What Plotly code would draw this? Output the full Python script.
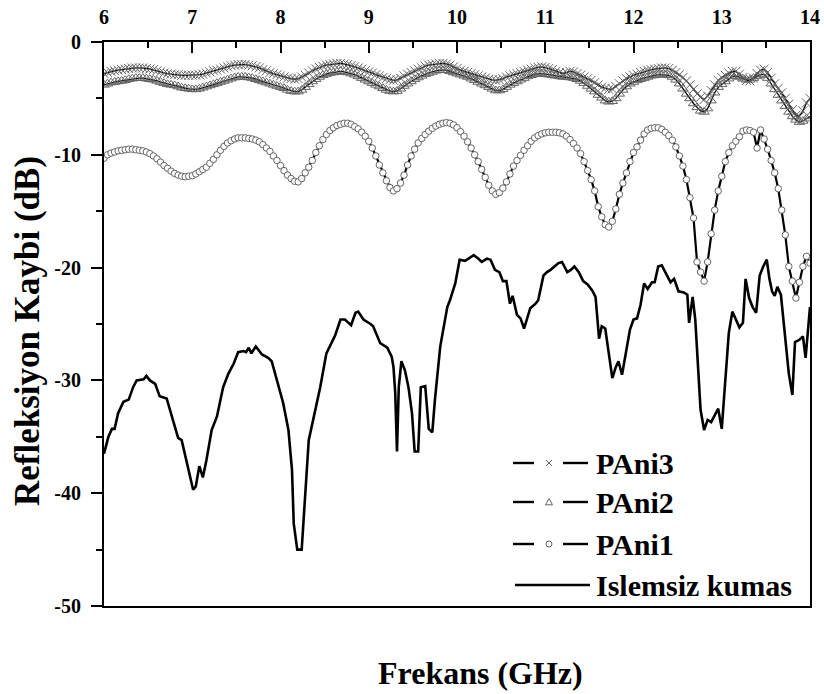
import numpy as np
import plotly.graph_objects as go

# ---------------------------------------------------------------------------
# Data: reflection loss (dB) versus frequency (GHz)
# ---------------------------------------------------------------------------
# Coated fabrics were swept from 6 to 14 GHz in 201 equally spaced points.
sweep_ghz = np.linspace(6.0, 14.0, 201)

pani1_db = [
    -10.3, -10.0, -9.85, -9.75, -9.65, -9.6, -9.55, -9.5, -9.5, -9.55, -9.6, -9.65, -9.75,
    -9.9, -10.1, -10.35, -10.65, -10.95, -11.2, -11.45, -11.65, -11.8, -11.9, -11.95, -11.9,
    -11.85, -11.7, -11.5, -11.3, -11.1, -10.75, -10.4, -10.0, -9.6, -9.25, -8.95, -8.75, -8.6,
    -8.5, -8.5, -8.5, -8.55, -8.6, -8.7, -8.85, -9.1, -9.4, -9.7, -10.1, -10.5,
    -10.95, -11.4, -11.8, -12.1, -12.35, -12.4, -12.1, -11.6, -11.1, -10.5, -9.8, -9.2, -8.65,
    -8.2, -7.85, -7.6, -7.4, -7.3, -7.2, -7.2, -7.3, -7.5, -7.7, -8.0, -8.35,
    -8.8, -9.4, -10.1, -10.9, -11.6, -12.3, -12.9, -13.2, -13.0, -12.5, -11.8, -10.9, -10.1,
    -9.5, -8.95, -8.55, -8.2, -7.9, -7.65, -7.45, -7.3, -7.2, -7.15, -7.2, -7.35,
    -7.6, -7.95, -8.35, -8.85, -9.4, -10.0, -10.6, -11.3, -12.0, -12.7, -13.2, -13.5, -13.35,
    -12.95, -12.4, -11.7, -11.0, -10.5, -10.05, -9.6, -9.2, -8.8, -8.5, -8.3, -8.15,
    -8.05, -8.0, -8.0, -8.0, -8.05, -8.15, -8.35, -8.65, -9.0, -9.4, -9.9, -10.6, -11.4,
    -12.2, -13.2, -14.6, -15.5, -16.2, -16.4, -15.9, -14.8, -13.5, -12.5, -11.6, -10.6,
    -9.8, -9.3, -8.7, -8.15, -7.8, -7.65, -7.6, -7.6, -7.75, -8.0, -8.3, -8.7, -9.3,
    -10.1, -11.0, -12.2, -13.8, -15.6, -19.5, -20.4, -21.2, -19.5, -17.0, -14.9, -13.2,
    -11.9, -10.6, -9.8, -9.2, -8.8, -8.4, -7.9, -7.8, -7.85, -8.0, -9.4, -7.8, -8.6,
    -9.5, -10.5, -11.6, -13.0, -14.9, -17.1, -19.9, -21.2, -22.7, -21.3, -19.9, -19.0,
    -19.6,
]

pani2_db = [
    -3.8, -3.7, -3.6, -3.55, -3.5, -3.45, -3.4, -3.3, -3.25, -3.2, -3.2, -3.2, -3.25,
    -3.3, -3.35, -3.45, -3.55, -3.65, -3.75, -3.8, -3.85, -3.95, -4.05, -4.1, -4.15,
    -4.2, -4.2, -4.15, -4.05, -3.95, -3.85, -3.75, -3.65, -3.55, -3.45, -3.35, -3.25, -3.15,
    -3.1, -3.1, -3.1, -3.15, -3.2, -3.3, -3.4, -3.5, -3.6, -3.7, -3.8, -3.9,
    -4.0, -4.1, -4.25, -4.35, -4.4, -4.4, -4.25, -4.0, -3.75, -3.5, -3.3, -3.1, -2.95,
    -2.85, -2.75, -2.7, -2.65, -2.6, -2.65, -2.7, -2.8, -2.9, -3.05, -3.2, -3.35,
    -3.5, -3.65, -3.8, -3.95, -4.1, -4.25, -4.35, -4.4, -4.35, -4.15, -3.9, -3.7, -3.5,
    -3.3, -3.15, -3.0, -2.85, -2.75, -2.65, -2.55, -2.5, -2.5, -2.5, -2.6, -2.7,
    -2.8, -2.9, -3.0, -3.1, -3.25, -3.4, -3.55, -3.7, -3.85, -4.0, -4.15, -4.3, -4.3,
    -4.2, -4.0, -3.8, -3.65, -3.5, -3.35, -3.2, -3.05, -2.95, -2.85, -2.8, -2.8,
    -2.85, -2.9, -2.95, -3.0, -3.05, -3.1, -3.1, -3.15, -3.2, -3.3, -3.45, -3.65, -3.9,
    -4.15, -4.4, -4.7, -4.95, -5.2, -5.3, -5.25, -5.0, -4.6, -4.25, -3.95, -3.7,
    -3.55, -3.4, -3.3, -3.2, -3.1, -3.0, -2.95, -2.9, -2.9, -2.9, -2.95, -3.1, -3.35,
    -3.7, -4.15, -4.6, -5.0, -5.45, -5.8, -6.1, -6.2, -5.9, -5.2, -4.5, -4.0,
    -3.75, -3.5, -3.25, -3.05, -3.0, -3.1, -3.25, -3.35, -3.35, -3.2, -3.05, -2.9, -2.9,
    -3.2, -3.7, -4.2, -4.7, -5.2, -5.7, -6.2, -6.6, -6.9, -7.1, -7.0, -6.8,
    -6.6,
]

pani3_db = [
    -2.8, -2.7, -2.6, -2.55, -2.5, -2.45, -2.4, -2.35, -2.3, -2.3, -2.3, -2.3, -2.35,
    -2.4, -2.45, -2.55, -2.65, -2.75, -2.8, -2.85, -2.9, -2.9, -2.95, -2.95, -2.95,
    -2.95, -2.95, -2.9, -2.85, -2.75, -2.65, -2.55, -2.5, -2.4, -2.3, -2.2, -2.1, -2.05,
    -2.0, -2.0, -2.0, -2.05, -2.1, -2.2, -2.3, -2.45, -2.55, -2.7, -2.8, -2.9,
    -3.0, -3.1, -3.2, -3.25, -3.3, -3.25, -3.1, -2.95, -2.75, -2.55, -2.4, -2.25, -2.15,
    -2.05, -2.0, -1.95, -1.9, -1.9, -1.95, -2.0, -2.1, -2.2, -2.3, -2.4, -2.55,
    -2.65, -2.75, -2.9, -3.0, -3.15, -3.25, -3.35, -3.4, -3.35, -3.2, -3.0, -2.85, -2.7,
    -2.55, -2.4, -2.3, -2.15, -2.05, -2.0, -1.95, -1.9, -1.9, -1.95, -2.05, -2.2,
    -2.35, -2.5, -2.6, -2.7, -2.8, -2.9, -3.0, -3.1, -3.2, -3.3, -3.35, -3.4, -3.35,
    -3.25, -3.1, -3.0, -2.9, -2.8, -2.7, -2.6, -2.5, -2.4, -2.3, -2.25, -2.2,
    -2.25, -2.35, -2.45, -2.6, -2.7, -2.8, -2.7, -2.6, -2.65, -2.8, -2.95, -3.1, -3.25,
    -3.4, -3.6, -3.8, -4.0, -4.1, -4.2, -4.15, -3.95, -3.7, -3.45, -3.25, -3.1,
    -2.95, -2.85, -2.7, -2.6, -2.5, -2.45, -2.4, -2.35, -2.3, -2.3, -2.35, -2.5, -2.7,
    -2.9, -3.15, -3.45, -3.8, -4.2, -4.6, -4.9, -5.1, -4.8, -4.3, -3.8, -3.4,
    -3.15, -2.95, -2.75, -2.6, -2.6, -2.85, -3.15, -3.4, -3.45, -3.2, -2.8, -2.5, -2.4,
    -2.7, -3.2, -3.7, -4.1, -4.5, -5.0, -5.5, -6.0, -6.5, -6.6, -6.1, -5.4,
    -5.0,
]

# Untreated fabric, traced at irregular frequency points
kumas_ghz = [
    6.00, 6.05, 6.09, 6.12, 6.16, 6.22, 6.28, 6.33, 6.37, 6.45, 6.48, 6.52, 6.58, 6.63,
    6.71, 6.77, 6.84, 6.88, 6.96, 7.01, 7.04, 7.08, 7.12, 7.16, 7.22, 7.28, 7.35, 7.41,
    7.47, 7.52, 7.58, 7.61, 7.64, 7.67, 7.72, 7.79, 7.86, 7.90, 7.96, 8.03, 8.09, 8.13,
    8.15, 8.19, 8.24, 8.27, 8.32, 8.37, 8.45, 8.52, 8.56, 8.62, 8.68, 8.73, 8.80, 8.85,
    8.88, 8.94, 9.02, 9.05, 9.13, 9.21, 9.26, 9.28, 9.30, 9.32, 9.34, 9.37, 9.41, 9.45,
    9.49, 9.52, 9.56, 9.59, 9.64, 9.68, 9.72, 9.75, 9.81, 9.89, 9.92, 9.98, 10.03, 10.09,
    10.13, 10.19, 10.24, 10.28, 10.34, 10.38, 10.43, 10.48, 10.52, 10.56, 10.60, 10.63,
    10.68, 10.72, 10.76, 10.83, 10.89, 10.92, 10.98, 11.02, 11.06, 11.10, 11.15, 11.19,
    11.25, 11.29, 11.33, 11.38, 11.43, 11.48, 11.53, 11.57, 11.59, 11.61, 11.64, 11.68,
    11.72, 11.76, 11.80, 11.83, 11.87, 11.93, 11.96, 12.00, 12.04, 12.08, 12.12, 12.16,
    12.21, 12.24, 12.28, 12.32, 12.36, 12.42, 12.46, 12.51, 12.57, 12.61, 12.63, 12.67,
    12.70, 12.74, 12.76, 12.80, 12.84, 12.88, 12.92, 12.96, 13.00, 13.04, 13.08, 13.12,
    13.15, 13.20, 13.24, 13.27, 13.31, 13.35, 13.39, 13.43, 13.47, 13.51, 13.54, 13.57,
    13.60, 13.63, 13.67, 13.72, 13.76, 13.80, 13.83, 13.88, 13.92, 13.95, 13.98, 14.00,
]
kumas_db = [
    -36.5, -35.0, -34.3, -34.3, -32.9, -31.9, -31.7, -30.6, -30.0, -29.9, -29.6, -30.0, -30.3, -31.4,
    -31.6, -33.2, -35.1, -35.3, -38.2, -39.7, -39.4, -37.6, -38.6, -37.1, -34.4, -33.2, -30.6, -29.4,
    -28.5, -27.5, -27.4, -27.5, -27.1, -27.6, -27.0, -27.7, -28.0, -28.3, -30.0, -32.0, -34.4, -37.9,
    -42.7, -45.0, -45.0, -41.2, -35.3, -33.5, -30.6, -27.6, -27.0, -26.0, -24.6, -24.6, -25.1, -24.0,
    -23.9, -24.6, -25.0, -25.2, -26.7, -27.1, -27.9, -28.8, -31.1, -36.3, -30.6, -28.3, -29.1, -30.6,
    -32.9, -36.3, -36.3, -30.6, -30.5, -34.3, -34.6, -31.7, -27.0, -23.5, -22.9, -21.4, -19.3, -19.4,
    -19.2, -18.9, -19.2, -19.5, -19.2, -19.3, -20.2, -20.4, -21.2, -21.2, -23.2, -22.5,
    -24.2, -24.5, -25.4, -23.6, -23.2, -22.9, -20.7, -20.4, -20.2, -19.9, -19.6, -19.5,
    -20.4, -20.2, -19.9, -20.4, -21.2, -21.5, -22.0, -22.6, -24.9, -26.3, -25.2, -25.4,
    -27.6, -29.8, -28.8, -28.3, -29.5, -27.0, -25.5, -24.6, -24.5, -23.3, -21.4, -21.9,
    -21.3, -21.3, -19.9, -19.8, -20.4, -21.3, -21.0, -22.1, -22.2, -22.4, -24.9, -22.6,
    -24.6, -29.4, -32.6, -34.4, -33.5, -33.7, -33.1, -32.5, -34.3, -30.0, -25.8, -23.9,
    -24.4, -25.3, -24.9, -21.0, -22.7, -23.5, -24.0, -20.7, -19.9, -19.3, -21.0, -22.1,
    -22.5, -21.7, -22.4, -26.1, -29.4, -31.3, -26.6, -26.4, -26.1, -28.0, -24.9, -23.5,
]

x_ticks = [6, 7, 8, 9, 10, 11, 12, 13, 14]
y_ticks = [-50, -40, -30, -20, -10, 0]

series_names = ["PAni3", "PAni2", "PAni1", "Islemsiz kumas"]

# ---------------------------------------------------------------------------
# Figure geometry and styling
# ---------------------------------------------------------------------------
W, H = 824, 694
ML, MR, MT, MB = 104, 14, 42, 88
FONT = "Liberation Serif, Times New Roman, serif"
MARK_GRAY = "#646464"


def fx(px):
    """Horizontal pixel position -> paper coordinate."""
    return (px - ML) / (W - ML - MR)


def fy(py):
    """Vertical pixel position -> paper coordinate."""
    return (H - MB - py) / (H - MT - MB)


fig = go.Figure()

fig.add_trace(go.Scatter(
    x=kumas_ghz, y=kumas_db, mode="lines", name=series_names[3],
    line=dict(color="black", width=2.6),
))
fig.add_trace(go.Scatter(
    x=sweep_ghz, y=pani1_db, mode="lines+markers", name=series_names[2],
    line=dict(color="black", width=2.2),
    marker=dict(symbol="circle", size=6.5, color="white",
                line=dict(color=MARK_GRAY, width=1)),
))
fig.add_trace(go.Scatter(
    x=sweep_ghz, y=pani2_db, mode="lines+markers", name=series_names[1],
    line=dict(color="black", width=1.3),
    marker=dict(symbol="triangle-up-open", size=9, color=MARK_GRAY,
                line=dict(color=MARK_GRAY, width=1)),
))
fig.add_trace(go.Scatter(
    x=sweep_ghz, y=pani3_db, mode="lines+markers", name=series_names[0],
    line=dict(color="black", width=1.3),
    marker=dict(symbol="x-thin", size=9, color=MARK_GRAY,
                line=dict(color=MARK_GRAY, width=1)),
))

# ---------------------------------------------------------------------------
# Hand-drawn legend content (line sample, small marker, label)
# ---------------------------------------------------------------------------
shapes = []
annotations = []
legend_rows = [
    # (label, text centre y px, symbol)
    (series_names[0], 463, "x"),
    (series_names[1], 502, "tri"),
    (series_names[2], 544, "circ"),
    (series_names[3], 585, None),
]
for label, ly, sym in legend_rows:
    if sym is None:
        shapes.append(dict(type="line", xref="paper", yref="paper",
                           x0=fx(515), x1=fx(590), y0=fy(ly), y1=fy(ly),
                           line=dict(color="black", width=2.4)))
    else:
        shapes.append(dict(type="line", xref="paper", yref="paper",
                           x0=fx(513), x1=fx(534), y0=fy(ly), y1=fy(ly),
                           line=dict(color="black", width=2.4)))
        shapes.append(dict(type="line", xref="paper", yref="paper",
                           x0=fx(563), x1=fx(588), y0=fy(ly), y1=fy(ly),
                           line=dict(color="black", width=2.4)))
        cx = 549
        if sym == "x":
            d = 3
            path = (f"M{fx(cx - d)},{fy(ly - d)} L{fx(cx + d)},{fy(ly + d)} "
                    f"M{fx(cx - d)},{fy(ly + d)} L{fx(cx + d)},{fy(ly - d)}")
            shapes.append(dict(type="path", xref="paper", yref="paper", path=path,
                               line=dict(color=MARK_GRAY, width=1)))
        elif sym == "tri":
            d = 3.5
            path = (f"M{fx(cx)},{fy(ly - d)} L{fx(cx + d)},{fy(ly + d * 0.8)} "
                    f"L{fx(cx - d)},{fy(ly + d * 0.8)} Z")
            shapes.append(dict(type="path", xref="paper", yref="paper", path=path,
                               line=dict(color=MARK_GRAY, width=1)))
        else:
            r = 3
            shapes.append(dict(type="circle", xref="paper", yref="paper",
                               x0=fx(cx - r), x1=fx(cx + r), y0=fy(ly + r), y1=fy(ly - r),
                               line=dict(color=MARK_GRAY, width=1)))
    annotations.append(dict(
        text=f"<b>{label}</b>", xref="paper", yref="paper", x=fx(594), y=fy(ly),
        xanchor="left", yanchor="middle", showarrow=False,
        font=dict(family=FONT, size=30, color="black"),
    ))

# Axis titles
annotations.append(dict(
    text="<b>Frekans (GHz)</b>", xref="paper", yref="paper", x=fx(376), y=fy(673),
    xanchor="left", yanchor="middle", showarrow=False,
    font=dict(family=FONT, size=32, color="black"),
))
annotations.append(dict(
    text="<b>Refleksiyon Kaybi (dB)</b>", xref="paper", yref="paper", x=fx(27), y=fy(508),
    xanchor="center", yanchor="bottom", textangle=-90, showarrow=False,
    font=dict(family=FONT, size=35, color="black"),
))

tick_font = dict(family=FONT, size=20, color="black")

fig.update_layout(
    width=W, height=H,
    margin=dict(l=ML, r=MR, t=MT, b=MB, pad=0, autoexpand=False),
    paper_bgcolor="white", plot_bgcolor="white",
    showlegend=False,
    shapes=shapes, annotations=annotations,
    xaxis=dict(
        range=[6, 14], side="top", tickvals=x_ticks,
        ticktext=[f"<b>{v}</b>" for v in x_ticks],
        ticks="inside", ticklen=11, tickwidth=2, tickcolor="black",
        minor=dict(ticks="inside", ticklen=6, tickwidth=2, tickcolor="black", dtick=0.5,
                   showgrid=False),
        showline=True, linecolor="black", linewidth=2, mirror=True, automargin=False,
        showgrid=False, zeroline=False, tickfont=tick_font, ticklabelstandoff=8,
    ),
    yaxis=dict(
        range=[-50, 0], tickvals=y_ticks, ticktext=[f"<b>{v}</b>" for v in y_ticks],
        ticks="outside", ticklen=11, tickwidth=2, tickcolor="black",
        minor=dict(ticks="outside", ticklen=6, tickwidth=2, tickcolor="black", dtick=5,
                   showgrid=False),
        showline=True, linecolor="black", linewidth=2, mirror=True, automargin=False,
        showgrid=False, zeroline=False, tickfont=tick_font, ticklabelstandoff=6,
    ),
)

fig.write_html("out.html")
